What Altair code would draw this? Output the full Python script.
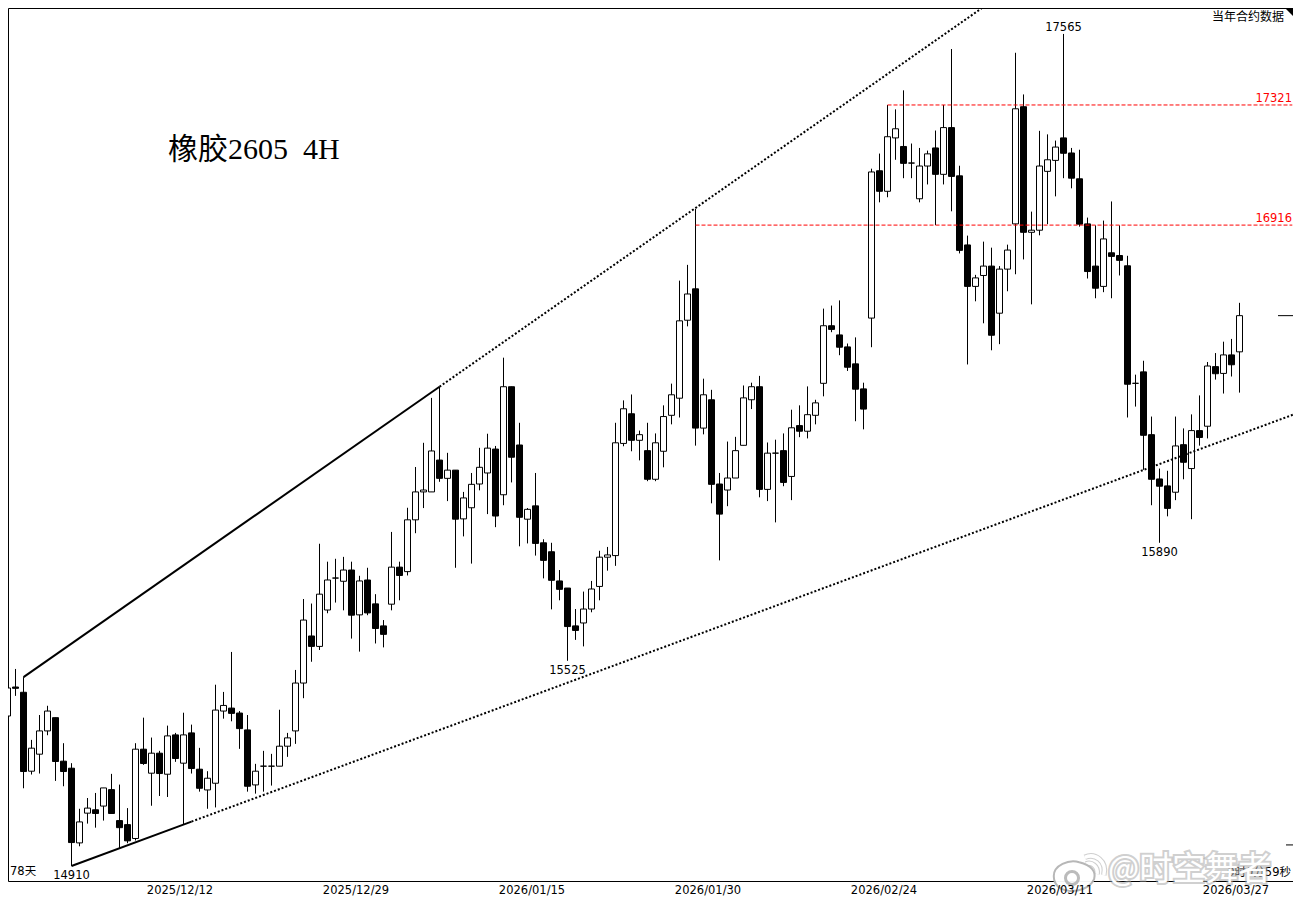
"""Rubber 2605 4H candlestick chart with trend lines and support levels."""

import altair as alt
import pandas as pd

opens = [
    15357, 15445, 15429, 15191, 15242, 15312, 15352, 15221, 15200, 14978,
    15066, 15076, 15087, 15136, 15044, 15032, 14991, 15257, 15185, 15245,
    15182, 15300, 15215, 15306, 15197, 15135, 15155, 15372, 15381, 15366,
    15315, 15150, 15206, 15206, 15206, 15266, 15312, 15457, 15601, 15569,
    15681, 15780, 15770, 15805, 15666, 15774, 15700, 15632, 15699, 15814,
    15800, 15962, 16050, 16050, 16151, 16093, 16119, 15965, 16000, 16075,
    16110, 16186, 16041, 16386, 16199, 15964, 16006, 15890, 15862, 15771,
    15749, 15632, 15641, 15684, 15754, 15845, 15850, 16204, 16299, 16214,
    16181, 16090, 16179, 16294, 16349, 16602, 16705, 16253, 16344, 16075,
    16056, 16094, 16198, 16344, 16386, 16058, 16173, 16181, 16099, 16261,
    16243, 16294, 16397, 16584, 16554, 16515, 16460, 16379, 16609, 17098,
    17029, 17209, 17180, 17124, 17004, 17114, 17175, 17086, 17244, 17081,
    16850, 16713, 16749, 16780, 16625, 16770, 16920, 17315, 16892, 16899,
    17096, 17133, 17209, 17158, 17071, 16920, 16780, 16713, 16824, 16815,
    16781, 16397, 16434, 16232, 16091, 16069, 16049, 16200, 16124, 16245,
    16259, 16451, 16429, 16489, 16499,
]
highs = [
    15485, 15500, 15475, 15285, 15360, 15388, 15352, 15275, 15215, 15079,
    15111, 15126, 15141, 15183, 15151, 15081, 15275, 15352, 15292, 15252,
    15328, 15306, 15367, 15331, 15261, 15191, 15452, 15430, 15552, 15372,
    15360, 15213, 15252, 15243, 15376, 15306, 15497, 15715, 15701, 15887,
    15831, 15840, 15846, 15831, 15787, 15812, 15730, 15650, 15924, 15831,
    16000, 16129, 16206, 16350, 16386, 16174, 16119, 16050, 16110, 16190,
    16235, 16196, 16480, 16386, 16270, 15999, 16110, 15901, 15890, 15805,
    15749, 15684, 15738, 15771, 15865, 15877, 16270, 16342, 16361, 16245,
    16270, 16236, 16326, 16396, 16732, 16784, 16970, 16412, 16376, 16110,
    16210, 16225, 16390, 16399, 16421, 16207, 16216, 16236, 16312, 16326,
    16387, 16344, 16640, 16650, 16667, 16526, 16546, 16399, 17105, 17156,
    17321, 17306, 17371, 17190, 17175, 17166, 17234, 17321, 17513, 17115,
    16881, 16751, 16861, 16841, 16780, 16851, 17500, 17357, 16961, 17233,
    17221, 17200, 17565, 17175, 17169, 16941, 16915, 16931, 16995, 16915,
    16814, 16425, 16470, 16290, 16124, 16117, 16290, 16252, 16297, 16358,
    16466, 16495, 16532, 16541, 16659,
]
lows = [
    15320, 15418, 15140, 15181, 15184, 15299, 15162, 15146, 14910, 14968,
    15035, 15023, 15044, 15065, 14962, 14977, 14985, 15210, 15088, 15117,
    15114, 15219, 15032, 15184, 15130, 15079, 15083, 15349, 15341, 15258,
    15130, 15124, 15130, 15148, 15206, 15234, 15273, 15411, 15522, 15558,
    15671, 15704, 15680, 15593, 15553, 15665, 15578, 15566, 15680, 15711,
    15788, 15920, 15999, 16050, 16082, 16021, 15812, 15910, 15825, 16055,
    15980, 15939, 16008, 16080, 15879, 15888, 15850, 15779, 15683, 15711,
    15525, 15589, 15569, 15674, 15711, 15803, 15818, 16195, 16179, 16150,
    16084, 16084, 16128, 16265, 16287, 16582, 16197, 16233, 16014, 15835,
    16005, 16094, 16198, 16314, 16033, 16021, 15954, 16068, 16024, 16224,
    16220, 16265, 16355, 16563, 16488, 16437, 16275, 16249, 16514, 16992,
    17009, 17135, 17073, 17073, 16992, 17052, 16916, 17052, 16962, 16822,
    16458, 16664, 16592, 16504, 16524, 16697, 16753, 16802, 16654, 16882,
    16919, 17012, 17073, 17039, 16911, 16739, 16674, 16694, 16674, 16749,
    16287, 16322, 16120, 16008, 15890, 15973, 16024, 16090, 15964, 16197,
    16220, 16409, 16364, 16419, 16367,
]
closes = [
    15442, 15441, 15190, 15260, 15312, 15372, 15220, 15190, 14979, 15040,
    15081, 15065, 15141, 15065, 15023, 14984, 15257, 15214, 15245, 15184,
    15297, 15229, 15300, 15199, 15140, 15170, 15375, 15389, 15365, 15319,
    15146, 15191, 15206, 15206, 15266, 15291, 15457, 15650, 15569, 15730,
    15774, 15780, 15805, 15665, 15771, 15672, 15624, 15606, 15814, 15788,
    15962, 16050, 16056, 16180, 16093, 16119, 15964, 16031, 16074, 16128,
    16189, 15974, 16386, 16160, 15970, 15995, 15888, 15835, 15773, 15745,
    15630, 15618, 15684, 15746, 15845, 15852, 16206, 16315, 16214, 16232,
    16090, 16206, 16290, 16360, 16600, 16688, 16253, 16360, 16074, 15980,
    16094, 16181, 16350, 16386, 16058, 16173, 16173, 16080, 16254, 16243,
    16296, 16334, 16584, 16572, 16514, 16449, 16378, 16314, 17094, 17029,
    17213, 17240, 17123, 17124, 17114, 17155, 17086, 17244, 17079, 16832,
    16713, 16741, 16780, 16553, 16770, 16833, 17308, 16892, 16899, 17114,
    17135, 17178, 17157, 17073, 16919, 16762, 16707, 16870, 16812, 16799,
    16394, 16397, 16230, 16090, 16068, 15998, 16196, 16144, 16245, 16223,
    16453, 16428, 16489, 16457, 16617,
]

date_ticks = [21.5, 43.5, 65.5, 87.5, 109.5, 131.5, 153.5]
date_labels = ['2025/12/12', '2025/12/29', '2026/01/15', '2026/01/30',
               '2026/02/24', '2026/03/11', '2026/03/27']

# extreme prices printed next to the candles
extreme_idx = [8, 70, 132, 144]
extreme_price = [14910, 15525, 17565, 15890]
extreme_dy = [10, 10, -6, 10]

# trend lines: candle index and price at each end
upper_solid = ([2, 54], [15475, 16386])
upper_dotted = ([54, 123], [16386, 17678])
lower_solid = ([8, 23], [14910, 15041])
lower_dotted = ([23, 160.7], [15041, 16296])

# horizontal levels start at the candle that made them
level_idx = [110, 86]
level_price = [17321, 16916]

# the page body is 1285 wide, a wider svg gets squeezed
WIDTH = 1285
HEIGHT = 873
SERIF = '"Liberation Serif", "Noto Sans CJK SC"'
SANS = '"DejaVu Sans", "Noto Sans CJK SC"'

candles = pd.DataFrame({
    'i': range(len(opens)),
    'open': opens, 'high': highs, 'low': lows, 'close': closes,
})
candles['body_fill'] = ['#000000' if c < o else '#ffffff' for o, c in zip(opens, closes)]

x_scale = alt.Scale(domain=[0.0625, 160.6875], nice=False, zero=False, padding=0)
y_scale = alt.Scale(type='log', domain=[14866, 17655], nice=False, zero=False)
label_list = ','.join(repr(d) for d in date_labels)
x_axis = alt.Axis(
    values=date_ticks,
    labelExpr=f"[{label_list}][(datum.value - 21.5) / 22]",
    domain=False, ticks=False, grid=False, labelPadding=3, labelAngle=0,
    labelFont='DejaVu Sans', labelFontSize=11.5, labelColor='black',
    labelFlush=False, labelOverlap=False, title=None, zindex=1,
)


def x_enc(field='i'):
    return alt.X(f'{field}:Q', scale=x_scale, axis=x_axis)


def y_enc(field='price'):
    return alt.Y(f'{field}:Q', scale=y_scale, axis=None)


wicks = alt.Chart(candles).mark_rule(color='black', strokeWidth=1).encode(
    x=x_enc(), y=y_enc('low'), y2='high:Q')

bodies = alt.Chart(candles).mark_bar(size=6, stroke='black', strokeWidth=1).encode(
    x=x_enc(), y=y_enc('open'), y2='close:Q',
    fill=alt.Fill('body_fill:N', scale=None))


def trend(points, dash=None):
    df = pd.DataFrame({'i': points[0], 'price': points[1]})
    style = {'color': 'black', 'strokeWidth': 2, 'clip': True}
    if dash:
        style['strokeDash'] = dash
    return alt.Chart(df).mark_line(**style).encode(x=x_enc(), y=y_enc())


levels = pd.DataFrame({'i': level_idx, 'price': level_price, 'end': [160.6, 160.6]})
level_lines = alt.Chart(levels).mark_rule(color='#ff0000', strokeWidth=1, strokeDash=[4, 2]).encode(
    x=x_enc(), x2='end:Q', y=y_enc())
level_text = alt.Chart(levels).mark_text(
    align='right', baseline='middle', dy=-6, color='#ff0000', font='DejaVu Sans', fontSize=11.5
).encode(x=alt.value(1284), y=y_enc(), text=alt.Text('price:Q', format='d'))

extremes = pd.DataFrame({'i': extreme_idx, 'price': extreme_price, 'dy': extreme_dy})
extreme_layers = [
    alt.Chart(extremes[extremes['dy'] == d]).mark_text(
        baseline='middle', dy=d, color='black', font='DejaVu Sans', fontSize=11.5
    ).encode(x=x_enc(), y=y_enc(), text=alt.Text('price:Q', format='d'))
    for d in (10, -6)
]

# price tick on the right edge at the last close, and the lower scale mark
last_close = alt.Chart(pd.DataFrame({'price': [closes[-1]]})).mark_rule(color='black').encode(
    x=alt.value(1270), x2=alt.value(1285), y=y_enc())
scale_mark = alt.Chart(pd.DataFrame({'price': [14972]})).mark_rule(color='black').encode(
    x=alt.value(1278), x2=alt.value(1285), y=y_enc())


def label(text, x, y, **style):
    df = pd.DataFrame({'t': [text]})
    return alt.Chart(df).mark_text(**style).encode(
        x=alt.value(x), y=alt.value(y), text='t:N')


title = label('橡胶2605\u00a0\u00a04H', 160, 142, align='left', baseline='middle',
              font=SERIF, fontSize=30, color='black')
contract = label('当年合约数据', 1276, 9, align='right', baseline='middle',
                 font='Noto Sans CJK SC', fontSize=12, color='black')
days = label('78天', 2, 864, align='left', baseline='middle',
             font=SANS, fontSize=11.5, color='black')
countdown = label('0时0分59秒', 1283, 865, align='right', baseline='middle',
                  font=SANS, fontSize=11.5, color='black')

corner = alt.Chart(pd.DataFrame({'t': [0]})).mark_point(
    shape='M -1 -1 L 1 -1 L 1 1 Z', size=64, filled=True, color='black', opacity=1
).encode(x=alt.value(1281), y=alt.value(4))

# weibo watermark over the bottom right corner
mark_shadow = label('@时空舞者', 1100, 862, align='left', baseline='middle',
                    font='Noto Sans CJK SC', fontSize=33, color='#ffffff',
                    stroke='#a8a8a8', strokeWidth=4, strokeOpacity=0.55)
mark_front = label('@时空舞者', 1100, 862, align='left', baseline='middle',
                   font='Noto Sans CJK SC', fontSize=33, color='#ffffff')
logo_one = pd.DataFrame({'t': [0]})
logo_body = alt.Chart(logo_one).mark_point(
    shape='M -1 0 C -1 -0.5 -0.3 -0.8 0.2 -0.65 C 0.8 -0.5 1 -0.2 0.9 0.15 '
          'C 0.7 0.6 0.1 0.75 -0.3 0.7 C -0.8 0.62 -1 0.35 -1 0 Z',
    size=1800, filled=True, fill='#ffffff', stroke='#b4b4b4', strokeWidth=2, opacity=0.95
).encode(x=alt.value(1067), y=alt.value(868))
logo_eye = alt.Chart(logo_one).mark_point(
    shape='circle', size=170, filled=False, stroke='#b4b4b4', strokeWidth=3, opacity=0.9
).encode(x=alt.value(1064), y=alt.value(870))
logo_wave = alt.Chart(logo_one).mark_point(
    shape='M -1 -0.6 C -0.1 -1 1 -0.3 0.7 1 M -0.9 0 C -0.4 -0.2 0.2 0.2 0.1 0.9',
    size=500, filled=False, stroke='#ffffff', strokeWidth=3.5, opacity=1
).encode(x=alt.value(1088), y=alt.value(856))
logo_wave_edge = alt.Chart(logo_one).mark_point(
    shape='M -1 -0.6 C -0.1 -1 1 -0.3 0.7 1 M -0.9 0 C -0.4 -0.2 0.2 0.2 0.1 0.9',
    size=500, filled=False, stroke='#a8a8a8', strokeWidth=5.5, opacity=0.55
).encode(x=alt.value(1088), y=alt.value(856))

chart = alt.layer(
    wicks, bodies,
    trend(upper_solid), trend(upper_dotted, [2, 2]),
    trend(lower_solid), trend(lower_dotted, [2, 2]),
    level_lines, level_text, *extreme_layers,
    last_close, scale_mark, title, contract, days, countdown, corner,
    mark_shadow, mark_front, logo_wave_edge, logo_wave, logo_body, logo_eye,
).properties(
    width=WIDTH, height=HEIGHT,
    autosize=alt.AutoSizeParams(type='none'),
    padding={'left': 0, 'top': 0, 'right': 0, 'bottom': 17},
    background='white',
).configure_view(stroke='black', strokeWidth=1)

chart.save("out.html", embed_options={"renderer": "svg", "actions": False})
